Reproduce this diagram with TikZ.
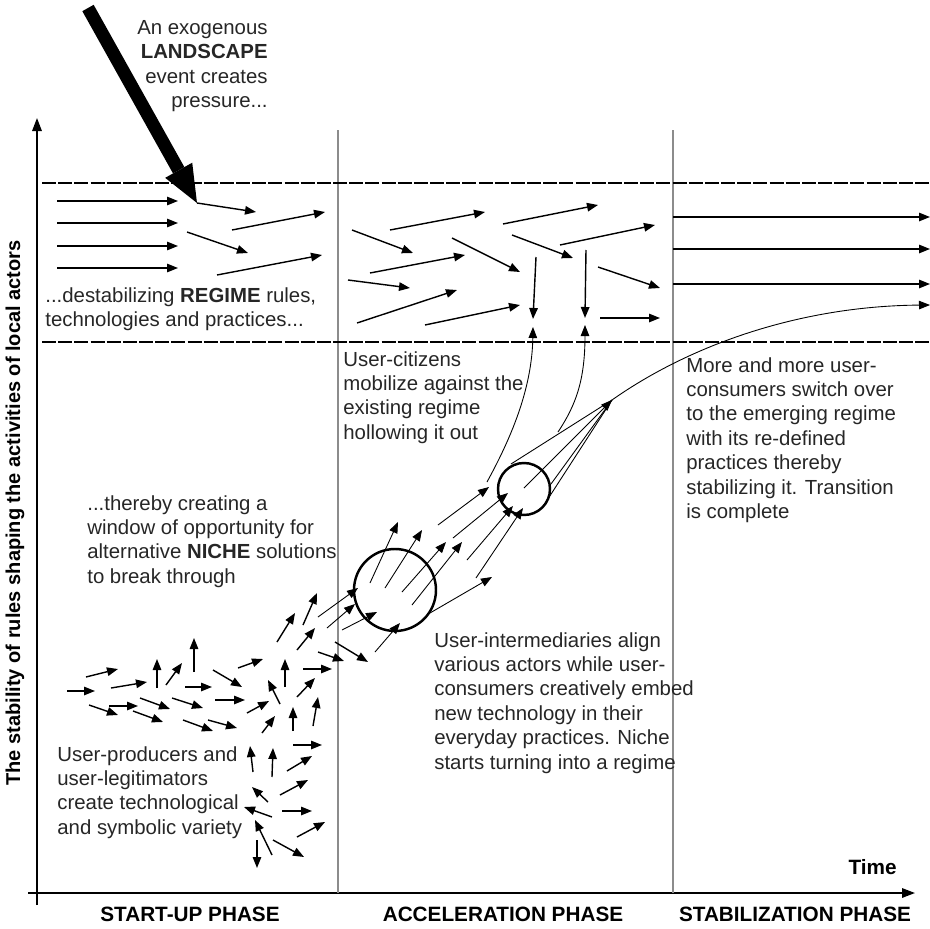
\documentclass[tikz,border=0pt]{standalone}
\usepackage{fontspec}
\setmainfont{Liberation Sans}
\usetikzlibrary{arrows.meta}

\begin{document}
\begin{tikzpicture}[x=0.2mm, y=-0.2mm, font=\fontsize{11.6}{13.9}\selectfont]
        \tikzstyle{arr}=[line width=0.8pt, -{Triangle[length=2.2mm,width=1.7mm]}]
        \tikzstyle{thin arr}=[line width=0.5pt, -{Triangle[length=2.2mm,width=1.7mm]}]
        \tikzstyle{band}=[line width=0.8pt, dash pattern=on 8pt off 1.2pt]
        \tikzstyle{phase}=[black!45, line width=0.6pt]
        \tikzstyle{txt}=[anchor=north west, align=left, inner sep=0pt, text=black!85]
        \tikzstyle{lbl}=[font=\fontsize{11.8}{14}\selectfont\bfseries, inner sep=0pt]
        \tikzstyle{ring}=[circle, draw, line width=1.4pt, inner sep=0pt]

        \useasboundingbox (0,0) rectangle (930,929);

        % 坐标轴
        \coordinate (ybot) at (37,905);
        \coordinate (ytop) at (37,118);
        \coordinate (xl) at (28,893);
        \coordinate (xr) at (915,893);
        \draw[line width=0.9pt, -{Triangle[length=2.6mm,width=1.9mm]}] (ybot) -- (ytop);
        \draw[line width=0.9pt, -{Triangle[length=2.6mm,width=1.9mm]}] (xl) -- (xr);

        % 阶段分隔线
        \foreach \x in {338,673} {
            \draw[phase] (\x,130) -- (\x,893);
        }

        % 体制带
        \draw[band] (42,183) -- (930,183);
        \draw[band] (42,342) -- (930,342);

        % 外部冲击
        \coordinate (shock) at (88,8);
        \coordinate (hit) at (197,203);
        \draw[line width=2.6mm, -{Triangle[length=7.5mm,width=6.2mm,line width=0pt]}] (shock) -- (hit);

        % 体制内的箭头
        \foreach \xa/\ya/\xb/\yb in {57/201/178/201, 57/223/178/223, 57/246/178/246, 57/268/178/268,
            197/203/256/212, 232/230/325/212, 187/232/248/253, 217/275/322/255,
            352/230/413/253, 390/230/485/212, 370/273/465/255, 348/280/410/288,
            357/323/457/290, 452/238/520/272, 425/325/520/305, 503/224/598/205,
            512/235/573/258, 560/245/655/225, 598/267/660/288, 600/318/660/318,
            536/257/533/319, 586/250/585/318,
            673/217/930/217, 673/249/930/249, 673/284/930/284} {
            \draw[arr] (\xa,\ya) -- (\xb,\yb);
        }

        % 利基的箭头
        \foreach \xa/\ya/\xb/\yb in {67/691/95/691, 86/677/118/669, 111/688/147/682,
            89/705/118/715, 109/706/138/706, 133/711/163/722, 157/688/157/659,
            166/685/182/663, 140/698/170/709, 194/672/194/638, 185/687/212/687,
            172/698/203/708, 183/720/213/731, 208/720/237/728, 213/670/242/687,
            238/668/263/659, 215/700/245/700, 247/713/269/701, 285/687/285/659,
            280/704/268/680, 262/733/275/716, 293/731/293/707, 303/669/332/669,
            297/697/315/678, 313/726/318/697, 293/745/322/745, 287/771/312/756,
            253/772/250/746, 272/777/273/748, 268/802/252/787, 280/795/308/780,
            272/817/244/807, 282/811/312/811, 297/837/325/822, 272/855/255/820,
            257/840/257/868, 273/840/304/857, 277/642/295/613, 303/625/317/593,
            297/650/315/628, 318/652/344/661, 335/642/368/662} {
            \draw[arr] (\xa,\ya) -- (\xb,\yb);
        }

        % 两个圆
        \node[ring, minimum size=16.4mm] (bigc) at (395,590) {};
        \node[ring, minimum size=10.4mm] (smallc) at (524,489) {};

        % 穿过圆的箭头
        \foreach \xa/\ya/\xb/\yb in {318/617/358/588, 327/628/355/604, 342/630/377/612,
            375/652/400/623, 370/583/398/522, 385/588/422/530, 402/592/446/542,
            412/605/462/542, 438/525/489/487, 453/538/508/493, 467/560/513/506,
            476/578/523/508, 430/613/492/577} {
            \draw[thin arr] (\xa,\ya) -- (\xb,\yb);
        }

        % 汇聚到新体制
        \coordinate (conv) at (612,400);
        \foreach \x/\y in {511/464, 544/505, 551/484} {
            \draw[line width=0.5pt] (\x,\y) -- (conv);
        }
        \draw[thin arr] (524,488) -- (conv);
        \draw[thin arr] (conv) .. controls (690,345) and (800,306) .. (930,305);

        % 用户公民掏空旧体制
        \draw[thin arr] (487,482) .. controls (510,440) and (532,390) .. (533,327);
        \draw[thin arr] (558,432) .. controls (576,405) and (585,380) .. (585,325);

        % 文字
        \node[txt, anchor=north east, align=right] (land) at (268,20) {An exogenous\\\textbf{LANDSCAPE}\\event creates\\pressure...};
        \node[txt] (regime) at (45,287) {...destabilizing \textbf{REGIME} rules,\\technologies and practices...};
        \node[txt] (niche) at (87,495) {...thereby creating a\\window of opportunity for\\alternative \textbf{NICHE} solutions\\to break through};
        \node[txt] (citizens) at (343,351) {User-citizens\\mobilize against the\\existing regime\\hollowing it out};
        \node[txt] (switch) at (686,357) {More and more user-\\consumers switch over\\to the emerging regime\\with its re-defined\\practices thereby\\stabilizing it. Transition\\is complete};
        \node[txt] (interm) at (434,632) {User-intermediaries align\\various actors while user-\\consumers creatively embed\\new technology in their\\everyday practices. Niche\\starts turning into a regime};
        \node[txt] (producers) at (57,746) {User-producers and\\user-legitimators\\create technological\\and symbolic variety};

        % 轴标签
        \node[lbl, anchor=base east] (time) at (897,874) {Time};
        \node[lbl, anchor=base] (p1) at (190,921) {START-UP PHASE};
        \node[lbl, anchor=base] (p2) at (503,921) {ACCELERATION PHASE};
        \node[lbl, anchor=base] (p3) at (795,921) {STABILIZATION PHASE};
        \node[lbl, font=\fontsize{11.4}{13}\selectfont\bfseries, rotate=90] (ylab) at (15,513) {The stability of rules shaping the activities of local actors};
    \end{tikzpicture}
\end{document}
